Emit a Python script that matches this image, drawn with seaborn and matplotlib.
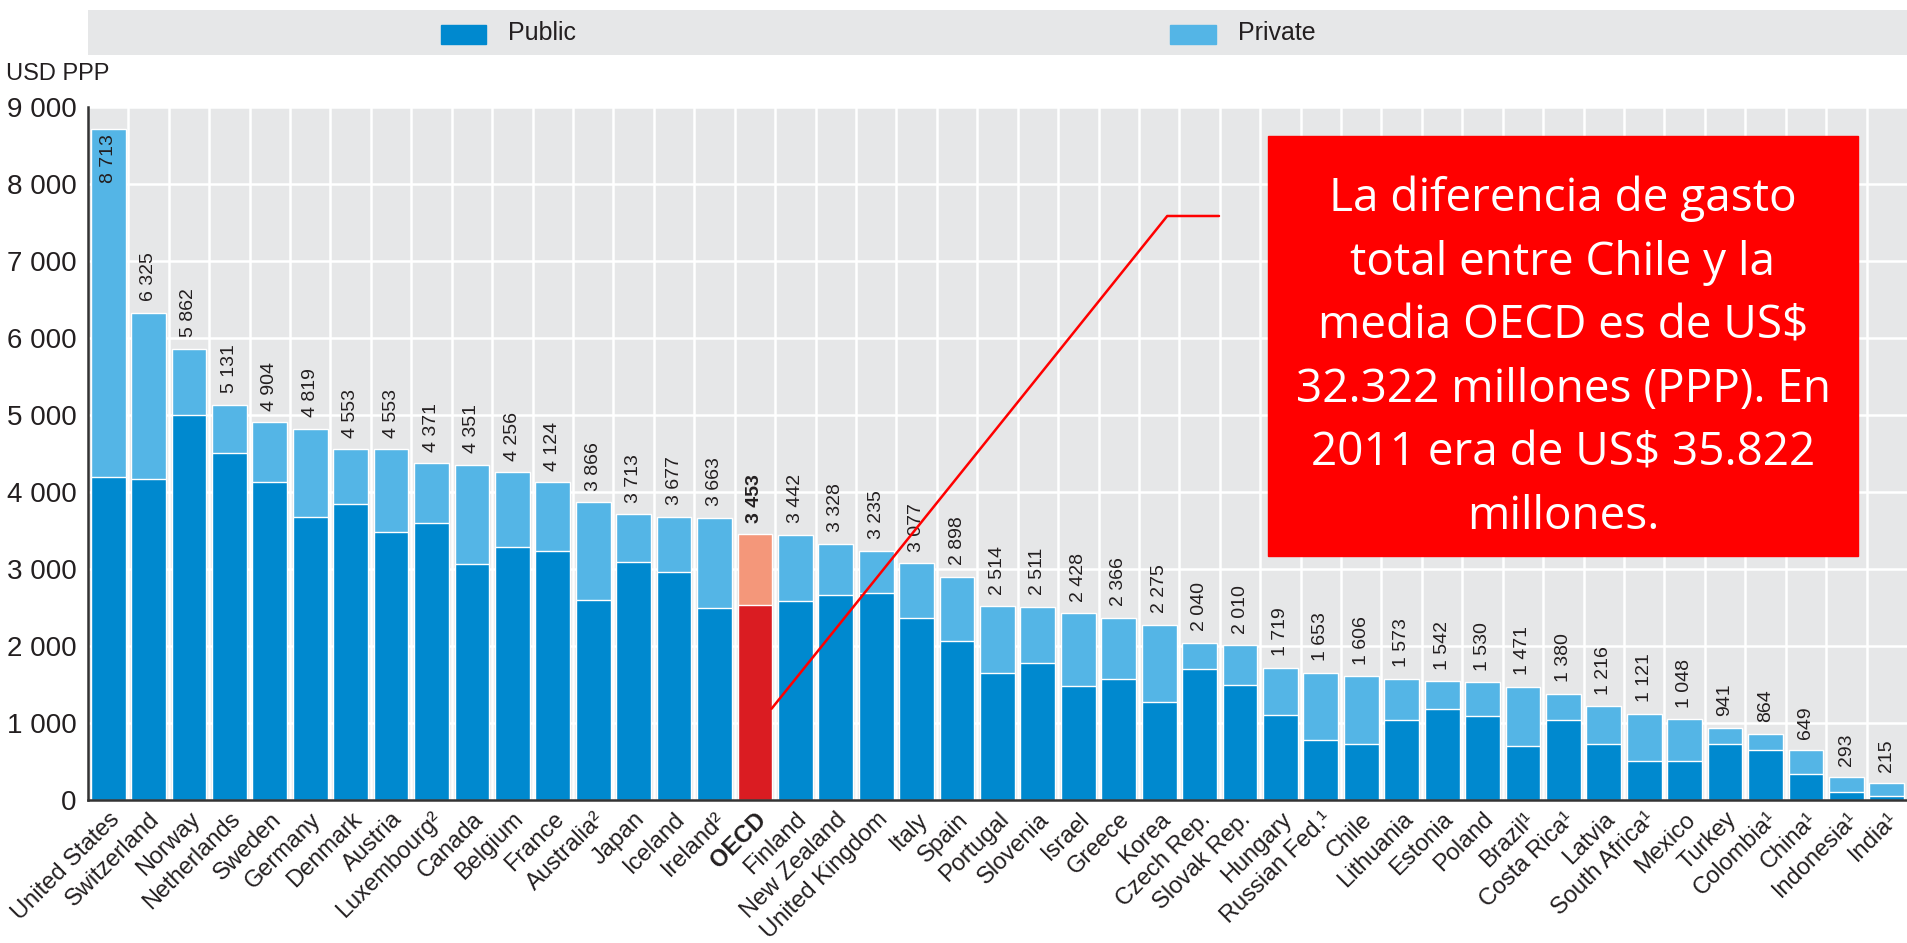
import matplotlib
matplotlib.use("Agg")
import matplotlib.pyplot as plt
from matplotlib.patches import Rectangle
import seaborn as sns
import pandas as pd

# Data (USD PPP per student)
countries = ["United States", "Switzerland", "Norway", "Netherlands", "Sweden", "Germany",
             "Denmark", "Austria", "Luxembourg²", "Canada", "Belgium", "France", "Australia²",
             "Japan", "Iceland", "Ireland²", "OECD", "Finland", "New Zealand", "United Kingdom",
             "Italy", "Spain", "Portugal", "Slovenia", "Israel", "Greece", "Korea", "Czech Rep.",
             "Slovak Rep.", "Hungary", "Russian Fed.¹", "Chile", "Lithuania", "Estonia", "Poland",
             "Brazil¹", "Costa Rica¹", "Latvia", "South Africa¹", "Mexico", "Turkey", "Colombia¹",
             "China¹", "Indonesia¹", "India¹"]
total = [8713, 6325, 5862, 5131, 4904, 4819, 4553, 4553, 4371, 4351, 4256, 4124, 3866,
         3713, 3677, 3663, 3453, 3442, 3328, 3235, 3077, 2898, 2514, 2511, 2428, 2366, 2275,
         2040, 2010, 1719, 1653, 1606, 1573, 1542, 1530, 1471, 1380, 1216, 1121, 1048, 941,
         864, 649, 293, 215]
public = [4200, 4170, 4995, 4505, 4125, 3680, 3840, 3475, 3600, 3065, 3290, 3240, 2600,
          3090, 2965, 2500, 2530, 2580, 2660, 2686, 2370, 2065, 1655, 1782, 1478, 1578, 1270,
          1705, 1500, 1110, 782, 726, 1034, 1186, 1086, 697, 1034, 726, 513, 513, 726,
          645, 340, 110, 57]
highlight = "OECD"

PUBLIC = "#0089CF"
PRIVATE = "#54B5E6"
OECD_PUBLIC = "#DA1C22"
OECD_PRIVATE = "#F4977A"
BG = "#E6E7E8"
TXT = "#231F20"

df = pd.DataFrame({"country": countries, "total": total, "public": public})

sns.set_theme(style="white")
plt.rcParams["font.family"] = ["Liberation Sans", "DejaVu Sans"]

fig = plt.figure(figsize=(19.07, 9.43), dpi=100)
ax = fig.add_axes([0.0461, 0.1516, 0.9539, 0.7349])
ax.set_facecolor(BG)

light_cols = [OECD_PRIVATE if c == highlight else PRIVATE for c in countries]
dark_cols = [OECD_PUBLIC if c == highlight else PUBLIC for c in countries]

# total bar (light) with public share (dark) drawn over it
sns.barplot(data=df, x="country", y="total", hue="country", palette=light_cols,
            legend=False, width=0.86, saturation=1, ax=ax, zorder=3)
sns.barplot(data=df, x="country", y="public", hue="country", palette=dark_cols,
            legend=False, width=0.86, saturation=1, ax=ax, zorder=4)

n = len(countries)
ax.set_xlim(-0.5, n - 0.5)
ax.set_ylim(0, 9000)

# grid: white horizontal lines and white separators between bars
for yv in range(1000, 9001, 1000):
    ax.axhline(yv, color="white", lw=1.8, zorder=1)
for i in range(n - 1):
    ax.axvline(i + 0.5, color="white", lw=1.8, zorder=1)

ax.set_yticks(range(0, 9001, 1000))
ax.set_yticklabels([f"{v:,}".replace(",", " ") for v in range(0, 9001, 1000)],
                   fontsize=20, color=TXT)
ax.set_xticks(range(n))
ax.set_xticklabels(countries, rotation=45, ha="right", rotation_mode="anchor",
                   fontsize=17, color=TXT)
ax.get_xticklabels()[countries.index(highlight)].set_fontweight("bold")
ax.set_xticks([i + 0.5 for i in range(n - 1)], minor=True)
ax.tick_params(axis="x", which="major", length=0, pad=6)
ax.tick_params(axis="x", which="minor", direction="in", length=8, width=1.5, color="#333333")
ax.tick_params(axis="y", direction="in", length=9, width=1.5, color="#333333", pad=8)
ax.set_xlabel("")
ax.set_ylabel("")
for s in ["top", "right"]:
    ax.spines[s].set_visible(False)
for s in ["left", "bottom"]:
    ax.spines[s].set_color("#333333")
    ax.spines[s].set_linewidth(1.8)
    ax.spines[s].set_zorder(5)

# value labels
for i, (c, t) in enumerate(zip(countries, total)):
    lab = f"{t:,}".replace(",", " ")
    w = "bold" if c == highlight else "normal"
    if t > 8000:
        ax.text(i, t - 70, lab, rotation=90, ha="center", va="top", fontsize=14,
                color=TXT, fontweight=w, zorder=6)
    else:
        ax.text(i, t + 150, lab, rotation=90, ha="center", va="bottom", fontsize=14,
                color=TXT, fontweight=w, zorder=6)

fig.text(0.003, 0.921, "USD PPP", fontsize=17, color=TXT, ha="left", va="center")

# legend band
lax = fig.add_axes([0.0461, 0.9417, 0.9539, 0.0477])
lax.set_xlim(0, 1)
lax.set_ylim(0, 1)
lax.axis("off")
lax.add_patch(Rectangle((0, 0), 1, 1, color=BG, transform=lax.transAxes, zorder=0))
lax.add_patch(Rectangle((0.194, 0.25), 0.025, 0.42, color=PUBLIC, zorder=1))
lax.text(0.231, 0.48, "Public", fontsize=18, color=TXT, va="center", ha="left")
lax.add_patch(Rectangle((0.595, 0.25), 0.025, 0.42, color=PRIVATE, zorder=1))
lax.text(0.632, 0.48, "Private", fontsize=18, color=TXT, va="center", ha="left")

# annotation
oecd_i = countries.index(highlight)
ax.plot([oecd_i + 0.41, 26.2, 27.48], [1185, 7585, 7585], color="#FF0000", lw=1.8, zorder=7)
fig.patches.append(Rectangle((1268 / 1907, 1 - 556 / 943), 590 / 1907, 420 / 943,
                             color="#FF0000", transform=fig.transFigure, zorder=8))
note = ("La diferencia de gasto\ntotal entre Chile y la\nmedia OECD es de US$\n"
        "32.322 millones (PPP). En\n2011 era de US$ 35.822\nmillones.")
fig.text((1268 + 295) / 1907, 1 - 358 / 943, note, color="white", fontsize=33,
         ha="center", va="center", linespacing=1.5, family=["Open Sans", "DejaVu Sans"],
         zorder=9)

fig.savefig("out.png", dpi=100)
